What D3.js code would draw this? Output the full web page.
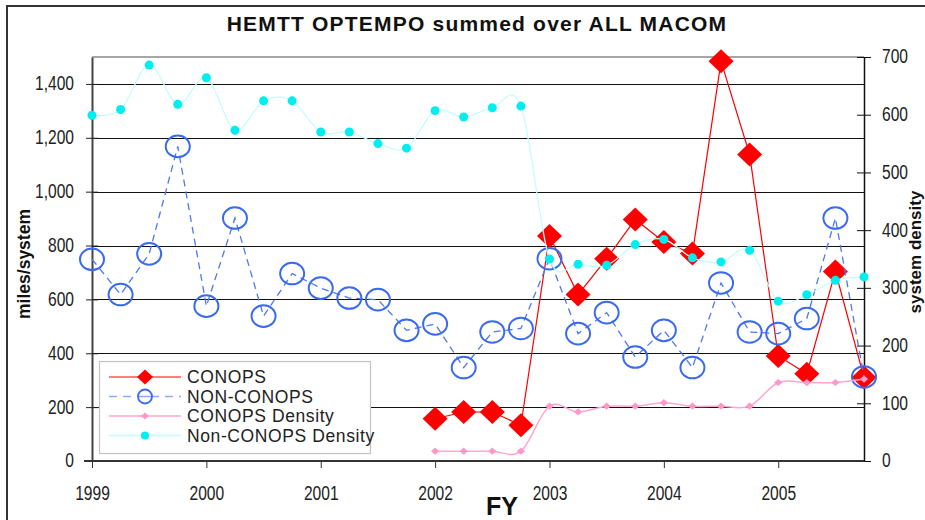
<!DOCTYPE html>
<html>
<head>
<meta charset="utf-8">
<script src="https://cdn.jsdelivr.net/npm/d3@7"></script>
<style>
  body { margin: 0; background: #fff; }
  text { font-family: Arial, 'Liberation Sans', sans-serif; }
</style>
</head>
<body>
<div id="chart"></div>
<script>
// Chart data (quarterly, FY1999 Q1 .. FY2005 Q4)
var quarters = [];
['1999', '2000', '2001', '2002', '2003', '2004', '2005'].forEach(function (y) {
  ['Q1', 'Q2', 'Q3', 'Q4'].forEach(function (q) { quarters.push(y + ' ' + q); });
});
var yearLabels = ['1999', '2000', '2001', '2002', '2003', '2004', '2005'];

// miles/system (left axis)
var conops = [null, null, null, null, null, null, null, null, null, null, null, null,
  157, 182, 182, 133, 835, 618, 751, 897, 813, 770, 1484, 1138, 390, 324, 704, 310];
var nonConops = [749, 618, 769, 1168, 575, 902, 538, 696, 642, 605, 599, 485, 509, 347,
  479, 492, 751, 473, 551, 386, 485, 347, 661, 479, 473, 529, 902, 312];

// system density (right axis)
var conopsDensity = [null, null, null, null, null, null, null, null, null, null, null, null,
  17, 17, 17, 17, 95, 85, 95, 95, 101, 95, 95, 95, 136, 136, 136, 142];
var nonConopsDensity = [599, 609, 686, 618, 664, 573, 624, 624, 570, 570, 550, 542, 607, 596,
  612, 615, 350, 341, 339, 375, 384, 352, 345, 365, 277, 288, 313, 319];

var milesTicks = [0, 200, 400, 600, 800, 1000, 1200, 1400];
var densityTicks = [0, 100, 200, 300, 400, 500, 600, 700];

// SVG dimensions
var w = 925;
var h = 520;
var plot = { left: 92, right: 864, top: 57, bottom: 461 };
var squeeze = 0.8; // tick labels are drawn narrow in the original

var svg = d3.select('#chart')
  .append('svg')
  .attr('width', w)
  .attr('height', h);

// outer frame (runs off the right and bottom edge)
svg.append('rect')
  .attr('x', 7).attr('y', 6)
  .attr('width', 960).attr('height', 560)
  .attr('fill', 'none')
  .attr('stroke', '#333')
  .attr('stroke-width', 2);

// Scales
var xScale = d3.scalePoint()
  .domain(quarters)
  .range([plot.left, plot.right]);

var yLeft = d3.scaleLinear()
  .domain([0, 1500])
  .range([plot.bottom, plot.top]);

var yRight = d3.scaleLinear()
  .domain([0, 700])
  .range([plot.bottom, plot.top]);

// Gridlines
svg.append('g')
  .selectAll('line')
  .data(milesTicks.slice(1))
  .enter()
  .append('line')
  .attr('x1', plot.left)
  .attr('x2', plot.right)
  .attr('y1', d => Math.round(yLeft(d)) + 0.5)
  .attr('y2', d => Math.round(yLeft(d)) + 0.5)
  .attr('stroke', '#111')
  .attr('stroke-width', 1);

// plot area top border
svg.append('line')
  .attr('x1', plot.left).attr('x2', plot.right)
  .attr('y1', plot.top).attr('y2', plot.top)
  .attr('stroke', '#888').attr('stroke-width', 1.5);

// Axes
var leftAxis = d3.axisLeft(yLeft)
  .tickValues(milesTicks)
  .tickFormat(d3.format(','))
  .tickSizeOuter(0);

var leftGroup = svg.append('g')
  .attr('transform', `translate(${plot.left}, 0)`)
  .call(leftAxis);
leftGroup.select('.domain').attr('stroke', '#444').attr('stroke-width', 2);
leftGroup.selectAll('.tick line').attr('x1', -6).attr('x2', 6).attr('stroke', '#222');
leftGroup.selectAll('.tick text')
  .attr('x', -18 / squeeze)
  .attr('transform', `scale(${squeeze},1)`)
  .attr('font-size', 19.5)
  .attr('fill', '#222')
  .attr('dy', '0.3em');

var rightAxis = d3.axisRight(yRight)
  .tickValues(densityTicks)
  .tickSizeOuter(0);

var rightGroup = svg.append('g')
  .attr('transform', `translate(${plot.right}, 0)`)
  .call(rightAxis);
rightGroup.select('.domain').attr('stroke', '#111').attr('stroke-width', 1.5);
rightGroup.selectAll('.tick line').attr('x1', -7).attr('x2', 7).attr('stroke', '#111');
rightGroup.selectAll('.tick text')
  .attr('x', 18 / squeeze)
  .attr('transform', `scale(${squeeze},1)`)
  .attr('font-size', 19.5)
  .attr('fill', '#222')
  .attr('dy', '0.3em');

var xAxis = d3.axisBottom(xScale)
  .tickValues(quarters.filter((q, i) => i % 4 === 0))
  .tickFormat(q => q.slice(0, 4))
  .tickSizeInner(7)
  .tickSizeOuter(0)
  .tickPadding(18);

var xGroup = svg.append('g')
  .attr('transform', `translate(0, ${plot.bottom})`)
  .call(xAxis);
xGroup.select('.domain').attr('stroke', '#333').attr('stroke-width', 2)
  .attr('d', `M${plot.left - 8},0H${plot.right}`);
xGroup.selectAll('.tick line').attr('stroke', '#333');
xGroup.selectAll('.tick text')
  .attr('transform', `scale(${squeeze},1)`)
  .attr('font-size', 19.5)
  .attr('fill', '#222');

// Line generators
var lineLeft = d3.line()
  .defined(d => d.v !== null)
  .x(d => xScale(d.q))
  .y(d => yLeft(d.v));

var smoothRight = d3.line()
  .defined(d => d.v !== null)
  .x(d => xScale(d.q))
  .y(d => yRight(d.v))
  .curve(d3.curveCardinal.tension(0));

var pairs = arr => arr.map((v, i) => ({ q: quarters[i], v: v }));
var present = arr => pairs(arr).filter(d => d.v !== null);

var diamond = (hw, hh) => `M0,${-hh}L${hw},0L0,${hh}L${-hw},0Z`;

// CONOPS
var conopsGroup = svg.append('g');
conopsGroup.append('path')
  .datum(pairs(conops))
  .attr('d', lineLeft)
  .attr('fill', 'none')
  .attr('stroke', '#ff0000')
  .attr('stroke-width', 1.2);
conopsGroup.selectAll('path.pt')
  .data(present(conops))
  .enter()
  .append('path')
  .attr('class', 'pt')
  .attr('transform', d => `translate(${xScale(d.q)}, ${yLeft(d.v)})`)
  .attr('d', diamond(12.5, 12))
  .attr('fill', '#ff0000');

// NON-CONOPS
var nonGroup = svg.append('g');
nonGroup.append('path')
  .datum(pairs(nonConops))
  .attr('d', lineLeft)
  .attr('fill', 'none')
  .attr('stroke', '#4d78f0')
  .attr('stroke-width', 1.3)
  .attr('stroke-dasharray', '7,5');
nonGroup.selectAll('ellipse')
  .data(present(nonConops))
  .enter()
  .append('ellipse')
  .attr('cx', d => xScale(d.q))
  .attr('cy', d => yLeft(d.v))
  .attr('rx', 12)
  .attr('ry', 10.8)
  .attr('fill', 'none')
  .attr('stroke', '#3a6af0')
  .attr('stroke-width', 2);

// CONOPS Density
var cdGroup = svg.append('g');
cdGroup.append('path')
  .datum(pairs(conopsDensity))
  .attr('d', smoothRight)
  .attr('fill', 'none')
  .attr('stroke', '#ffa6d2')
  .attr('stroke-width', 1.5);
cdGroup.selectAll('path.pt')
  .data(present(conopsDensity))
  .enter()
  .append('path')
  .attr('class', 'pt')
  .attr('transform', d => `translate(${xScale(d.q)}, ${yRight(d.v)})`)
  .attr('d', diamond(4.2, 3.6))
  .attr('fill', '#ff99cc');

// Non-CONOPS Density
var ndGroup = svg.append('g');
ndGroup.append('path')
  .datum(pairs(nonConopsDensity))
  .attr('d', smoothRight)
  .attr('fill', 'none')
  .attr('stroke', '#c8fcfc')
  .attr('stroke-width', 1.3);
ndGroup.selectAll('circle')
  .data(present(nonConopsDensity))
  .enter()
  .append('circle')
  .attr('cx', d => xScale(d.q))
  .attr('cy', d => yRight(d.v))
  .attr('r', 4.5)
  .attr('fill', '#00eef0');

// Legend
var legend = svg.append('g');
legend.append('rect')
  .attr('x', 99.5).attr('y', 361.5)
  .attr('width', 271).attr('height', 92)
  .attr('fill', '#fff')
  .attr('stroke', '#c4c4c4')
  .attr('stroke-width', 1.2);

var legendItems = ['CONOPS', 'NON-CONOPS', 'CONOPS Density', 'Non-CONOPS Density'];
var legendRows = [377, 396.5, 416, 435.5];

legendItems.forEach(function (name, i) {
  var y = legendRows[i];
  var row = legend.append('g');
  var ln = row.append('line')
    .attr('x1', 109).attr('x2', 181)
    .attr('y1', y).attr('y2', y);
  if (i === 0) {
    ln.attr('stroke', '#ff0000').attr('stroke-width', 1.2);
    row.append('path').attr('transform', `translate(145, ${y})`)
      .attr('d', diamond(8, 7.5)).attr('fill', '#ff0000');
  } else if (i === 1) {
    ln.attr('stroke', '#8faaf5').attr('stroke-width', 1.5).attr('stroke-dasharray', '8,6');
    row.append('circle').attr('cx', 145).attr('cy', y).attr('r', 7)
      .attr('fill', '#fff').attr('stroke', '#3a6af0').attr('stroke-width', 1.8);
    row.append('line').attr('x1', 139).attr('x2', 151).attr('y1', y).attr('y2', y)
      .attr('stroke', '#8faaf5').attr('stroke-width', 1.5);
  } else if (i === 2) {
    ln.attr('stroke', '#ffa6d2').attr('stroke-width', 1.5);
    row.append('path').attr('transform', `translate(145, ${y})`)
      .attr('d', diamond(4.2, 3.6)).attr('fill', '#ff99cc');
  } else {
    ln.attr('stroke', '#c8fcfc').attr('stroke-width', 1.3);
    row.append('circle').attr('cx', 145).attr('cy', y).attr('r', 4)
      .attr('fill', '#00eef0');
  }
  row.append('text')
    .attr('x', 187)
    .attr('y', y)
    .attr('dy', '0.35em')
    .attr('font-size', 17.5)
    .attr('letter-spacing', 0.6)
    .attr('fill', '#222')
    .text(name);
});

// Titles
svg.append('text')
  .attr('x', 477)
  .attr('y', 31)
  .attr('text-anchor', 'middle')
  .attr('font-size', 21)
  .attr('font-weight', 'bold')
  .attr('letter-spacing', 1.2)
  .attr('fill', '#111')
  .text('HEMTT OPTEMPO summed over ALL MACOM');

svg.append('text')
  .attr('transform', 'translate(30, 264) rotate(-90)')
  .attr('text-anchor', 'middle')
  .attr('font-size', 17.5)
  .attr('font-weight', 'bold')
  .attr('fill', '#111')
  .text('miles/system');

svg.append('text')
  .attr('transform', 'translate(921, 252) rotate(-90)')
  .attr('text-anchor', 'middle')
  .attr('font-size', 17)
  .attr('font-weight', 'bold')
  .attr('fill', '#111')
  .text('system density');

svg.append('text')
  .attr('x', 502)
  .attr('y', 515)
  .attr('text-anchor', 'middle')
  .attr('font-size', 25)
  .attr('font-weight', 'bold')
  .attr('fill', '#111')
  .text('FY');
</script>
</body>
</html>
